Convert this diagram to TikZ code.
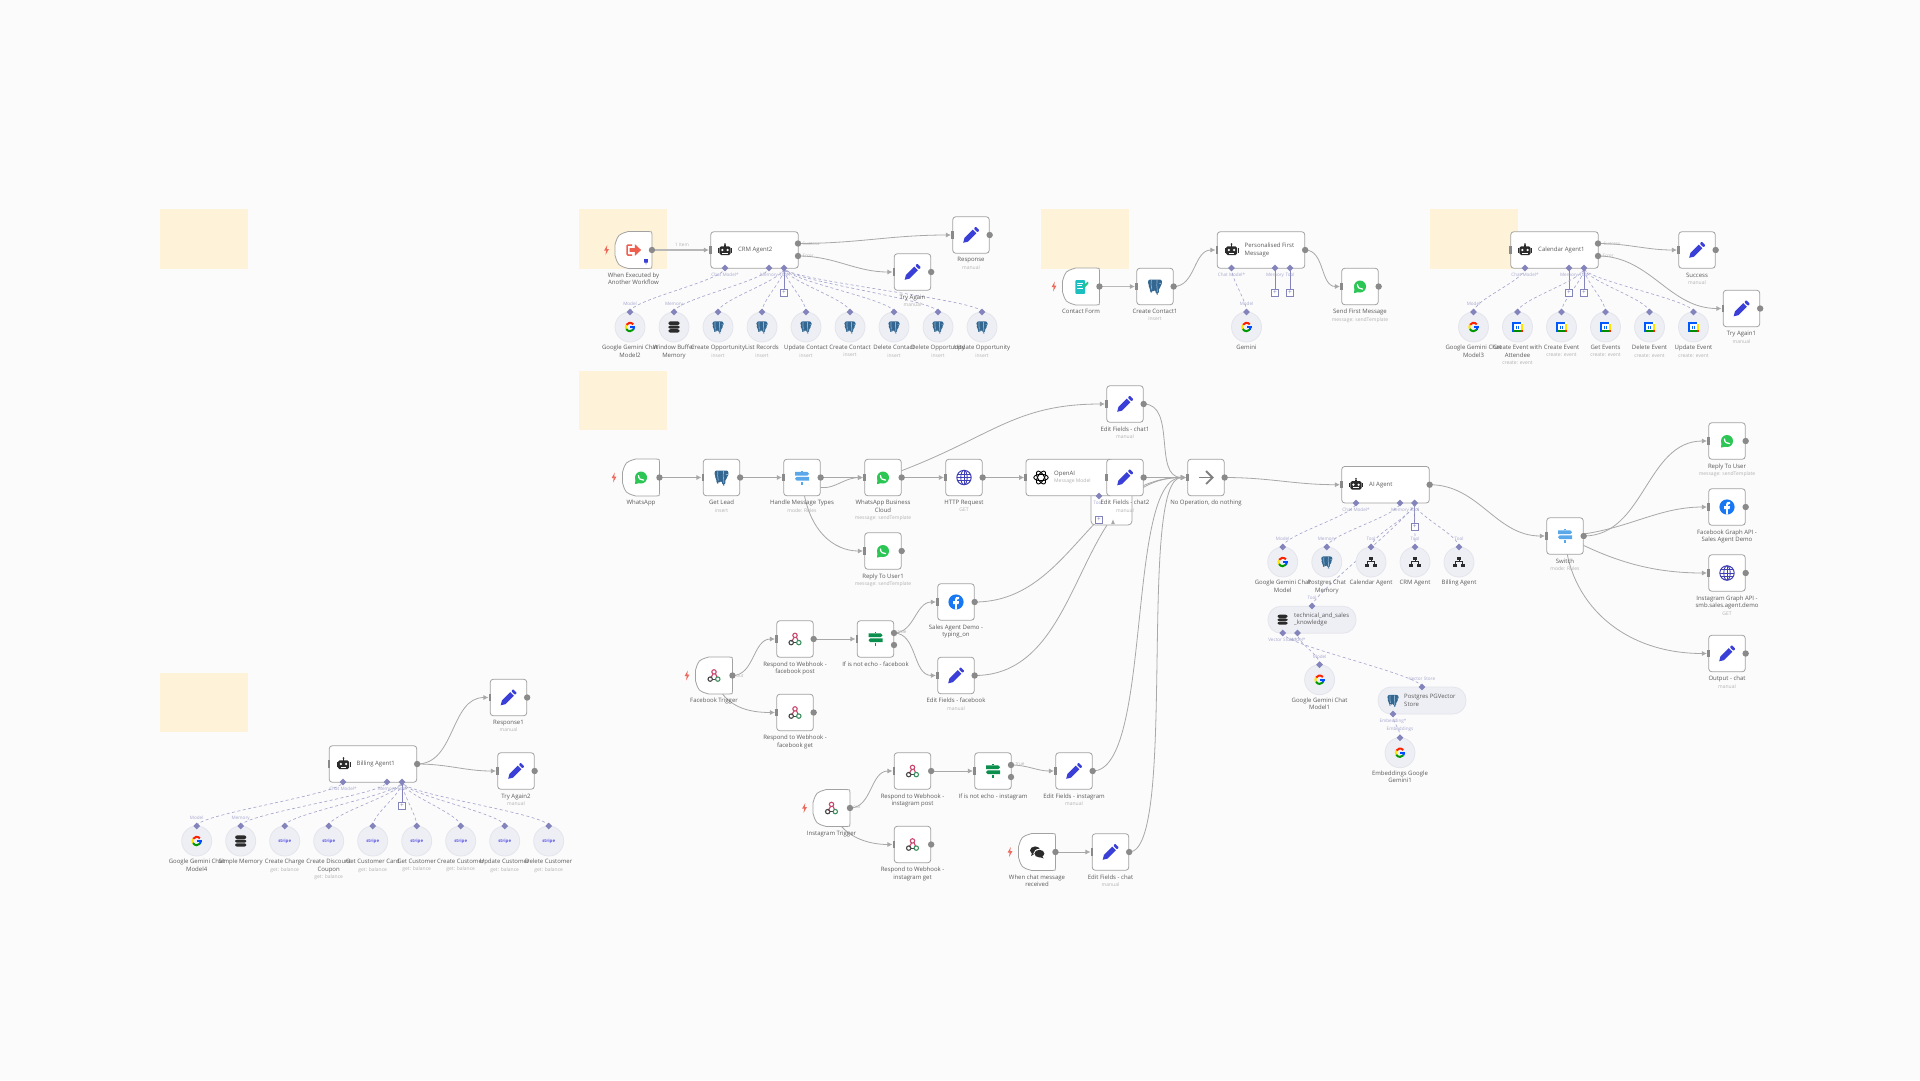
\documentclass[tikz,border=0pt]{standalone}
\usepackage{fontspec}
\setmainfont{Open Sans}
\usetikzlibrary{arrows.meta,shapes.geometric}
\pgfdeclarelayer{bg}\pgfdeclarelayer{edges}
\pgfsetlayers{bg,edges,main}
\definecolor{pagec}{HTML}{FBFBFB}
\definecolor{stick}{HTML}{FEF3D8}
\definecolor{bdc}{HTML}{A2A2A2}
\definecolor{portc}{HTML}{8A8A8A}
\definecolor{linec}{HTML}{A8A8A8}
\definecolor{linef}{HTML}{B8B8B8}
\definecolor{lav}{HTML}{8484BC}
\definecolor{lavt}{HTML}{A6A7CE}
\definecolor{circf}{HTML}{EEEFF5}
\definecolor{circd}{HTML}{E4E5EC}
\definecolor{txtc}{HTML}{5A5A5A}
\definecolor{subc}{HTML}{B2B2B2}
\definecolor{penc}{HTML}{3A3FD8}
\definecolor{wac}{HTML}{2BC653}
\definecolor{pgc}{HTML}{336791}
\definecolor{pgl}{HTML}{8FB2CF}
\definecolor{fbc}{HTML}{1877F2}
\definecolor{ifc}{HTML}{0B8F4C}
\definecolor{swc}{HTML}{5AA8EA}
\definecolor{globec}{HTML}{3F3FB8}
\definecolor{boltc}{HTML}{EE6A5C}
\definecolor{robc}{HTML}{2B2B2B}
\definecolor{stripec}{HTML}{5B55E6}
\definecolor{execc}{HTML}{EE5F50}
\definecolor{formc}{HTML}{1CBFC0}
\definecolor{hookp}{HTML}{C9486E}
\definecolor{hookg}{HTML}{3C8F5E}
\tikzset{
 actbox/.style={draw=bdc,fill=white,line width=.8pt,rounded corners=3pt,minimum width=36.5pt,minimum height=36.5pt,inner sep=0pt},
 trigbox/.style={minimum width=36.5pt,minimum height=36.5pt,inner sep=0pt},
 actpath/.style={draw=bdc,fill=white,line width=.8pt},
 agentbox/.style={draw=bdc,fill=white,line width=.8pt,rounded corners=3pt,minimum width=87.5pt,minimum height=36.5pt,inner sep=0pt},
 subcirc/.style={circle,draw=circd,fill=circf,line width=.8pt,minimum size=30pt,inner sep=0pt},
 pill/.style={draw=circd,fill=circf,line width=.8pt,rounded corners=13pt,minimum width=88pt,minimum height=27pt,inner sep=0pt},
 lbl/.style={font=\fontsize{6}{7.4}\selectfont,text=txtc,align=center,inner sep=0pt,anchor=north},
 intxt/.style={font=\fontsize{6}{7.4}\selectfont,text=txtc,align=left,inner sep=0pt,anchor=west},
 plbl/.style={font=\fontsize{4.6}{5.5}\selectfont,text=lavt,inner sep=0pt},
 elbl/.style={font=\fontsize{4.6}{5.5}\selectfont,text=subc,inner sep=0pt},
 outdot/.style={circle,fill=portc,minimum size=6.4pt,inner sep=0pt},
 inport/.style={rectangle,fill=portc,minimum width=2.4pt,minimum height=7.5pt,inner sep=0pt},
 dia/.style={diamond,fill=lav,minimum size=7pt,inner sep=0pt},
 plusbox/.style={draw=lav,fill=white,line width=.55pt,minimum size=6.6pt,inner sep=0pt,font=\fontsize{6.5}{6.5}\selectfont,text=lav},
 conn/.style={draw=linec,line width=.8pt,-{Latex[length=5pt,width=5pt]}},
 connfat/.style={draw=linef,line width=1.5pt,-{Latex[length=5pt,width=5pt,color=linec]}},
 sublink/.style={draw=lavt,line width=.65pt,dash pattern=on 3pt off 2.5pt},
 stub/.style={draw=lav,line width=.65pt},
 stickyb/.style={fill=stick,draw=none,minimum width=88pt,minimum height=59.5pt,inner sep=0pt},
}
\newcommand\subtxt[1]{{\fontsize{5}{7.4}\selectfont\color{subc}#1}}
% ---- icons (y up, unit pt)
\newcommand\ic[3][1]{\begin{scope}[shift={(#2)},x=1pt,y=1pt,scale=#1]#3\end{scope}}
\newcommand\icPen{\fill[penc] (-7.8,-7.8)--(-6.6,-2.9)--(1.7,5.4)--(5.4,1.7)--(-2.9,-6.6)--cycle;
 \fill[penc,rounded corners=.8pt] (2.7,6.4)--(4.6,8.4)--(8.4,4.6)--(6.4,2.7)--cycle;}
\newcommand\icWa{\fill[wac] (0,0) circle (6);\fill[wac] (-6,-6.6)--(-5.4,-1)--(-1,-5.4)--cycle;
 \draw[white,line width=1.3pt,line cap=round] (-2.6,2) .. controls (-2.4,-1.2) and (-.2,-2.8) .. (2.6,-2.6);}
\newcommand\icPg{\fill[pgc,rounded corners=2pt] (-6.8,7)--(6.8,7)--(7,1)--(4,-1)--(3.6,-8)--(.8,-8)--(.4,-3)--(-1.6,-3)--(-2.4,-6)--(-5,-6)--(-5.2,-.6)--(-7,1.5)--cycle;
 \draw[pgl,line width=.7pt] (-3.6,6.4) .. controls (-4.6,3) and (-3.6,1) .. (-3.2,-3) (2,6.4) .. controls (1,3) and (2.4,0) .. (2.2,-5.4) (4.4,3)--(6.4,3);}
\newcommand\icG{\draw[line width=2pt,color=red!75!orange] (40:4.2) arc[start angle=40,end angle=150,radius=4.2];
 \draw[line width=2pt,color=yellow!85!orange] (150:4.2) arc[start angle=150,end angle=210,radius=4.2];
 \draw[line width=2pt,color=green!60!black] (210:4.2) arc[start angle=210,end angle=320,radius=4.2];
 \draw[line width=2pt,color=blue!70!cyan] (320:4.2) arc[start angle=320,end angle=360,radius=4.2];
 \fill[blue!70!cyan] (0,-.9) rectangle (5.2,.9);}
\newcommand\icRob{\fill[robc,rounded corners=1.6pt] (-5.6,-5)--(5.6,-5)--(5.6,3.6)--(-5.6,3.6)--cycle;
 \fill[robc] (-7,-2.6) rectangle (-6,1.6);\fill[robc] (7,-2.6) rectangle (6,1.6);\fill[robc] (-.7,3.5) rectangle (.7,5.2);\fill[robc] (0,5.8) circle (1);
 \fill[white] (-2.6,0) circle (1.3);\fill[white] (2.6,0) circle (1.3);\fill[white] (-2.8,-3.4) rectangle (2.8,-2.6);}
\newcommand\icHook{\draw[hookp,line width=1.1pt] (0,3.6) circle (2.2);
 \draw[hookp,line width=1.1pt] (-.9,1.6)--(-3.4,-2.6) (1.4,2)--(3,-1.6);
 \draw[color=black!72,line width=1.1pt] (-3.8,-3.6) circle (2.2);
 \draw[color=black!72,line width=1.1pt] (-1.6,-3.6)--(1.6,-3.6);
 \draw[hookg,line width=1.1pt] (3.8,-3.6) circle (2.2);}
\newcommand\icSign[1]{\fill[#1] (-7,2)--(5.4,2)--(7,3.8)--(5.4,5.6)--(-7,5.6)--cycle;
 \fill[#1] (7,-3)--(-5.4,-3)--(-7,-1.2)--(-5.4,.6)--(7,.6)--cycle;
 \fill[#1] (-.8,-7.4) rectangle (.8,-4.4);\fill[#1] (-.8,5.6) rectangle (.8,7);}
\newcommand\icGlobe{\draw[globec,line width=1pt] (0,0) circle (7.2);\draw[globec,line width=.9pt] (0,0) ellipse (3.2 and 7.2);
 \draw[globec,line width=.9pt] (0,-7.2)--(0,7.2) (-7.2,0)--(7.2,0) (-6.3,3.4)--(6.3,3.4) (-6.3,-3.4)--(6.3,-3.4);}
\newcommand\icFb{\fill[fbc] (0,0) circle (7.6);\fill[white] (-.9,-7.6)--(-.9,-2)--(-3,-2)--(-3,.9)--(-.9,.9)--(-.9,2.8) .. controls (-.9,4.8) and (.4,5.6) .. (3,5.1)--(3,2.8)--(1.7,2.8) .. controls (1,2.8) and (.9,2.4) .. (.9,1.8)--(.9,.9)--(3,.9)--(2.6,-2)--(.9,-2)--(.9,-7.6)--cycle;}
\newcommand\icForm{\fill[formc,rounded corners=.8pt] (-5.6,-7.4) rectangle (4,6.4);\fill[wac!50!formc] (2,1) -- (7,5)--(7.4,3)--(3.4,-1.4)--cycle;
 \draw[white,line width=.9pt] (-3.6,3.4)--(1.6,3.4) (-3.6,.6)--(.6,.6) (-3.6,-2.2)--(1.6,-2.2);}
\newcommand\icCal{\fill[white] (-5.4,-5.4) rectangle (5.4,5.4);
 \fill[blue!65!cyan] (-5.4,3.2) rectangle (3.2,5.4);\fill[blue!65!cyan] (-5.4,-3.2) rectangle (-3.2,5.4);
 \fill[green!55!black] (-3.2,-5.4) rectangle (3.2,-3.2);\fill[yellow!85!orange] (3.2,-3.2) rectangle (5.4,3.2);
 \fill[red!75!orange] (3.2,-5.4) rectangle (5.4,-3.2);\fill[blue!65!cyan] (-5.4,-5.4) rectangle (-3.2,-3.2);
 \draw[blue!60!cyan,line width=.8pt] (-1.4,1.4)--(-1.4,-1.6) (1.2,1.4)--(1.2,-1.6);}
\newcommand\icDb[1]{\fill[robc,rounded corners=2pt] (-#1,#1*.35) rectangle (#1,#1);
 \fill[robc,rounded corners=2pt] (-#1,-#1*.3) rectangle (#1,#1*.25);
 \fill[robc,rounded corners=2pt] (-#1,-#1) rectangle (#1,-#1*.4);}
\newcommand\icChat{\fill[robc] (-1.8,1.6) ellipse (5.2 and 4);\fill[robc] (-5,-1)--(-6,-4)--(-2.4,-2)--cycle;
 \fill[white] (2.4,-1.6) ellipse (6 and 4.8);\fill[robc] (2.4,-1.6) ellipse (5 and 3.8);\fill[robc] (5,-4)--(6.6,-6.4)--(2.4,-5)--cycle;}
\newcommand\icArrow{\draw[color=black!50,line width=1.8pt] (-7,0)--(6,0);\draw[color=black!50,line width=1.8pt] (0,6.5)--(6.5,0)--(0,-6.5);}
\newcommand\icAi{\foreach \a in {0,60,120}{\draw[black,line width=.9pt,rotate=\a] (0,0) ellipse (7.2 and 3.2);}}
\newcommand\icExec{\draw[execc,line width=1.5pt,rounded corners=1pt] (-1.5,5)--(-6.5,5)--(-6.5,-5)--(-1.5,-5);
 \fill[execc] (-4,-1.8)--(1.4,-1.8)--(1.4,-5.8)--(7.6,0)--(1.4,5.8)--(1.4,1.8)--(-4,1.8)--cycle;}
\newcommand\icStripe{\node[inner sep=0pt,font=\bfseries\fontsize{4.4}{5}\selectfont,text=stripec] at (0,0) {stripe};}
\newcommand\icTree{\begin{scope}[scale=.85]\fill[robc] (-2,2.6) rectangle (2,6.4);\fill[robc] (-7,-6) rectangle (-2.2,-2);\fill[robc] (2.2,-6) rectangle (7,-2);\draw[robc,line width=.9pt] (-4.6,-2)--(-4.6,.4)--(4.6,.4)--(4.6,-2) (0,.4)--(0,2.6);\end{scope}}
\newcommand\icPgS{\begin{scope}[scale=.8]\icPg\end{scope}}
\newcommand\bolt[1]{\fill[boltc,shift={(#1)},x=1pt,y=1pt] (.8,5)--(-2.4,-.6)--(-.3,-.6)--(-1,-5)--(2.4,.8)--(.2,.8)--cycle;}
% ---- node macros
\newcommand\actn[5]{\node[actbox] (#1) at (#2,#3) {};\node[lbl] (#1-l) at (#2,#3+22.5) {#4};
 \node[inport] (#1-i) at (#1.west) {};\ic{#1.center}{#5}}
\newcommand\act[5]{\actn{#1}{#2}{#3}{#4}{#5}\node[outdot] (#1-o) at (#1.east) {};}
\newcommand\trig[5]{\node[trigbox] (#1) at (#2,#3) {};
 \filldraw[actpath] ([yshift=-3pt]#1.north east)--([yshift=3pt]#1.south east) .. controls (#1.south east) .. ([xshift=-3pt]#1.south east)
 --([xshift=13pt]#1.south west) .. controls ([xshift=3pt,yshift=3pt]#1.south west) .. ([yshift=13pt]#1.south west)
 --([yshift=-13pt]#1.north west) .. controls ([xshift=3pt,yshift=-3pt]#1.north west) .. ([xshift=13pt]#1.north west)
 --([xshift=-3pt]#1.north east) .. controls (#1.north east) .. cycle;
 \node[lbl] (#1-l) at (#2,#3+22.5) {#4};\node[outdot] (#1-o) at (#1.east) {};\ic{#1.center}{#5}\bolt{#2-27,#3}}
\newcommand\tool[6]{\node[subcirc] (#1) at (#2,#3) {};\node[dia] (#1-d) at (#2,#3-15) {};
 \node[plbl] (#1-t) at (#2,#3-23) {#4};\node[lbl] (#1-l) at (#2,#3+18) {#5};\ic{#1.center}{#6}}
\newcommand\agent[5]{\node[agentbox] (#1) at (#2,#3) {};\node[intxt] (#1-l) at (#2-16.5,#3) {#4};
 \node[inport] (#1-i) at (#1.west) {};\ic{#2-29.5,#3}{#5}}
\newcommand\port[4]{\node[dia] (#1) at (#2,#3) {};\node[plbl] (#1-t) at (#2,#3+7) {#4};}
\newcommand\plusb[3]{\node[plusbox] (#1) at (#2,#3) {+};}
\newcommand\lnk[2]{\draw[conn] (#1.center) to[out=0,in=180] (#2-i.west);}
\newcommand\lnkl[3]{\draw[conn] (#1.center) to[out=0,in=180,looseness=#3] (#2-i.west);}
\newcommand\dlnk[2]{\draw[sublink] (#1-d.center) .. controls +(0,-12) and +(0,12) .. (#2.center);}
\begin{document}
\begin{tikzpicture}[x=1pt,y=-1pt]
\useasboundingbox (0,0) rectangle (1920,1080);
\begin{pgfonlayer}{bg}
\fill[pagec] (0,0) rectangle (1920,1080);
\node[stickyb] (st1) at (204,239) {};
\node[stickyb] (st2) at (622.5,239) {};
\node[stickyb] (st3) at (1085,239) {};
\node[stickyb] (st4) at (1473.5,239) {};
\node[stickyb] (st5) at (622.5,400.5) {};
\node[stickyb] (st6) at (204,702.5) {};
\end{pgfonlayer}

% ===== CRM group
\trig{exe}{633.5}{250}{When Executed by\\Another Workflow}{\icExec}
\ic{646,262}{\fill[penc] (-1.8,3)--(1.8,3)--(1.8,-.6)--(.4,-.6)--(0,-3)--(-.4,-.6)--(-1.8,-.6)--cycle;}
\agent{crm}{754.5}{250}{CRM Agent2}{\icRob}
\node[outdot] (crm-o1) at (798,243.5) {};\node[outdot] (crm-o2) at (798,256) {};
\port{crm-m}{725}{268}{Chat Model*}\port{crm-e}{769}{268}{Memory}\port{crm-t}{784}{268}{Tool}
\plusb{crm-p}{784}{293}
\act{resp}{971}{235}{Response\\\subtxt{manual}}{\icPen}
\act{try}{912.5}{272}{Try Again\\\subtxt{manual}}{\icPen}
\tool{c1}{630}{327}{Model}{Google Gemini Chat\\Model2}{\icG}
\tool{c2}{674}{327}{Memory}{Window Buffer\\Memory}{\icDb{5.6}}
\tool{c3}{718}{327}{}{Create Opportunity\\\subtxt{insert}}{\icPgS}
\tool{c4}{762}{327}{}{List Records\\\subtxt{insert}}{\icPgS}
\tool{c5}{806}{327}{}{Update Contact\\\subtxt{insert}}{\icPgS}
\tool{c6}{850}{327}{}{Create Contact\\\subtxt{insert}}{\icPgS}
\tool{c7}{894}{327}{}{Delete Contact\\\subtxt{insert}}{\icPgS}
\tool{c8}{938}{327}{}{Delete Opportunity\\\subtxt{insert}}{\icPgS}
\tool{c9}{982}{327}{}{Update Opportunity\\\subtxt{insert}}{\icPgS}
\node[elbl] (crm-x0) at (682,245) {1 Item};
\node[elbl] (crm-x1) at (811,243.5) {Success};
\node[elbl] (crm-x2) at (808,256) {Error};

% ===== Contact group
\trig{cf}{1081}{286.5}{Contact Form}{\icForm}
\act{cc}{1155}{286.5}{Create Contact1\\\subtxt{insert}}{\icPg}
\agent{pf}{1261}{250}{Personalised First\\Message}{\icRob}
\node[outdot] (pf-o) at (pf.east) {};
\port{pf-m}{1231.5}{268}{Chat Model*}\port{pf-e}{1275}{268}{Memory}\port{pf-t}{1290}{268}{Tool}
\plusb{pf-p1}{1275}{293}\plusb{pf-p2}{1290}{293}
\tool{gem}{1246.5}{327}{Model}{Gemini}{\icG}
\act{sf}{1360}{286.5}{Send First Message\\\subtxt{message: sendTemplate}}{\icWa}

% ===== Calendar group
\agent{cal}{1554.5}{250}{Calendar Agent1}{\icRob}
\node[outdot] (cal-o1) at (1598,243.5) {};\node[outdot] (cal-o2) at (1598,256) {};
\port{cal-m}{1525}{268}{Chat Model*}\port{cal-e}{1569}{268}{Memory}\port{cal-t}{1584}{268}{Tool}
\plusb{cal-p1}{1569}{293}\plusb{cal-p2}{1584}{293}
\node[elbl] (cal-x1) at (1612,243.5) {Success};
\node[elbl] (cal-x2) at (1608,256) {Error};
\act{suc}{1697}{250}{Success\\\subtxt{manual}}{\icPen}
\act{try1}{1741.5}{308.5}{Try Again1\\\subtxt{manual}}{\icPen}
\tool{k1}{1473.5}{327}{Model}{Google Gemini Chat\\Model3}{\icG}
\tool{k2}{1517.5}{327}{}{Create Event with\\Attendee\\\subtxt{create: event}}{\icCal}
\tool{k3}{1561.5}{327}{}{Create Event\\\subtxt{create: event}}{\icCal}
\tool{k4}{1605.5}{327}{}{Get Events\\\subtxt{create: event}}{\icCal}
\tool{k5}{1649.5}{327}{}{Delete Event\\\subtxt{create: event}}{\icCal}
\tool{k6}{1693.5}{327}{}{Update Event\\\subtxt{create: event}}{\icCal}

% ===== Main row
\trig{wa}{641}{477.5}{WhatsApp}{\icWa}
\act{gl}{721.5}{477.5}{Get Lead\\\subtxt{insert}}{\icPg}
\act{hm}{802}{477.5}{Handle Message Types\\\subtxt{mode: Rules}}{\icSign{swc}}
\act{wb}{883}{477.5}{WhatsApp Business\\Cloud\\\subtxt{message: sendTemplate}}{\icWa}
\act{ht}{964}{477.5}{HTTP Request\\\subtxt{GET}}{\icGlobe}
\node[draw=bdc,fill=white,line width=.8pt,rounded corners=4pt,minimum width=41pt,minimum height=50pt,inner sep=0pt] (behind) at (1111.5,500) {};
\node[fill=linec,isosceles triangle,rotate=90,minimum size=3pt,inner sep=1pt] (behind-a) at (1113,523) {};
\node[agentbox,minimum width=87pt] (oa) at (1069.5,477.5) {};
\node[intxt] (oa-l) at (1054,477.5) {OpenAI\\\subtxt{Message Model}};
\node[inport] (oa-i) at (oa.west) {};
\ic{1041,477.5}{\icAi}
\node[dia] (oa-d) at (1099,496) {};\node[plbl] (oa-t) at (1098,502.5) {Tool};
\plusb{oa-p}{1099}{520}
\act{e2}{1125}{477.5}{Edit Fields - chat2\\\subtxt{manual}}{\icPen}
\act{e1}{1125}{404}{Edit Fields - chat1\\\subtxt{manual}}{\icPen}
\act{no}{1206}{477.5}{No Operation, do nothing}{\icArrow}
\act{ru1}{883}{551}{Reply To User1\\\subtxt{message: sendTemplate}}{\icWa}

% ===== Facebook
\trig{fbt}{714}{675.5}{Facebook Trigger}{\icHook}
\act{fp}{795}{639}{Respond to Webhook -\\facebook post}{\icHook}
\act{fg}{795}{712.5}{Respond to Webhook -\\facebook get}{\icHook}
\actn{fi}{875.5}{639}{If is not echo - facebook}{\icSign{ifc}}
\node[outdot] (fi-o1) at (894,633) {};\node[outdot] (fi-o2) at (894,645) {};
\act{fs}{956}{602}{Sales Agent Demo -\\typing\_on}{\icFb}
\act{fe}{956}{675.5}{Edit Fields - facebook\\\subtxt{manual}}{\icPen}
\node[elbl] (fbt-x) at (740,675.5) {out};
\node[elbl] (fi-x) at (902,632) {true};

% ===== Instagram
\trig{igt}{831.5}{808}{Instagram Trigger}{\icHook}
\act{ip}{912.5}{771}{Respond to Webhook -\\instagram post}{\icHook}
\act{ig}{912.5}{844.5}{Respond to Webhook -\\instagram get}{\icHook}
\actn{ii}{993}{771}{If is not echo - instagram}{\icSign{ifc}}
\node[outdot] (ii-o1) at (1011,765) {};\node[outdot] (ii-o2) at (1011,777) {};
\act{ie}{1074}{771}{Edit Fields - instagram\\\subtxt{manual}}{\icPen}
\node[elbl] (igt-x) at (857,807) {out};
\node[elbl] (ii-x) at (1020,764) {true};

% ===== Chat
\trig{ch}{1037}{852}{When chat message\\received}{\icChat}
\act{ce}{1110.5}{852}{Edit Fields - chat\\\subtxt{manual}}{\icPen}

% ===== AI Agent
\agent{ai}{1385.5}{484.7}{AI Agent}{\icRob}
\node[outdot] (ai-o) at (ai.east) {};
\port{ai-m}{1356}{503}{Chat Model*}\port{ai-e}{1400}{503}{Memory}\port{ai-t}{1414.6}{503}{Tool}
\plusb{ai-p}{1414.6}{527}
\tool{a1}{1282.7}{562}{Model}{Google Gemini Chat\\Model}{\icG}
\tool{a2}{1326.8}{562}{Memory}{Postgres Chat\\Memory}{\icPgS}
\tool{a3}{1371}{562}{Tool}{Calendar Agent}{\icTree}
\tool{a4}{1415}{562}{Tool}{CRM Agent}{\icTree}
\tool{a5}{1459}{562}{Tool}{Billing Agent}{\icTree}
% vector tool
\node[pill] (vt) at (1312,619.7) {};
\node[intxt] (vt-l) at (1294,619.7) {technical\_and\_sales\\\_knowledge};
\ic{1282.5,619.7}{\icDb{5}}
\node[dia] (vt-d) at (1312,606) {};\node[plbl] (vt-t) at (1312,598) {Tool};
\port{vt-s}{1282.7}{633}{Vector Store*}\port{vt-m}{1297.5}{633}{Model*}
\tool{gm1}{1319.6}{679.7}{Model}{Google Gemini Chat\\Model1}{\icG}
\node[pill] (pv) at (1422,700.5) {};
\node[intxt] (pv-l) at (1404,700.5) {Postgres PGVector\\Store};
\ic{1393,700.5}{\icPgS}
\node[dia] (pv-d) at (1422,687) {};\node[plbl] (pv-t) at (1422,678.5) {Vector Store};
\port{pv-b}{1393}{714}{Embedding*}
\tool{em}{1400}{752.7}{Embeddings}{Embeddings Google\\Gemini1}{\icG}

% ===== Switch & outputs
\act{sw}{1565}{536}{Switch\\\subtxt{mode: Rules}}{\icSign{swc}}
\act{ru}{1727}{441}{Reply To User\\\subtxt{message: sendTemplate}}{\icWa}
\act{fa}{1727}{507}{Facebook Graph API -\\Sales Agent Demo}{\icFb}
\act{in}{1727}{573}{Instagram Graph API -\\smb.sales.agent.demo\\\subtxt{GET}}{\icGlobe}
\act{oc}{1727}{653.5}{Output - chat\\\subtxt{manual}}{\icPen}

% ===== Billing
\agent{bi}{373}{764}{Billing Agent1}{\icRob}
\node[outdot] (bi-o) at (bi.east) {};
\port{bi-m}{343}{782}{Chat Model*}\port{bi-e}{387}{782}{Memory}\port{bi-t}{402}{782}{Tool}
\plusb{bi-p}{402}{806}
\act{re1}{508.5}{697.5}{Response1\\\subtxt{manual}}{\icPen}
\act{try2}{516}{771}{Try Again2\\\subtxt{manual}}{\icPen}
\tool{b1}{196.7}{841}{Model}{Google Gemini Chat\\Model4}{\icG}
\tool{b2}{240.7}{841}{Memory}{Simple Memory}{\icDb{5.6}}
\tool{b3}{284.7}{841}{}{Create Charge\\\subtxt{get: balance}}{\icStripe}
\tool{b4}{328.7}{841}{}{Create Discount\\Coupon\\\subtxt{get: balance}}{\icStripe}
\tool{b5}{372.7}{841}{}{Get Customer Card\\\subtxt{get: balance}}{\icStripe}
\tool{b6}{416.7}{841}{}{Get Customer\\\subtxt{get: balance}}{\icStripe}
\tool{b7}{460.7}{841}{}{Create Customer\\\subtxt{get: balance}}{\icStripe}
\tool{b8}{504.7}{841}{}{Update Customer\\\subtxt{get: balance}}{\icStripe}
\tool{b9}{548.7}{841}{}{Delete Customer\\\subtxt{get: balance}}{\icStripe}

% ===== connectors
\begin{pgfonlayer}{edges}
\draw[connfat] (exe-o.center)--(crm-i.west);
\lnk{crm-o1}{resp}\lnk{crm-o2}{try}
\draw[connfat] (cf-o.center)--(cc-i.west);
\lnk{cc-o}{pf}\lnk{pf-o}{sf}
\lnk{cal-o1}{suc}\lnk{cal-o2}{try1}
\lnk{wa-o}{gl}\lnk{gl-o}{hm}\lnk{hm-o}{wb}\lnk{wb-o}{ht}\lnk{ht-o}{oa}
\draw[conn] (hm.center) .. controls (828,500) and (838,478) .. (wb-i.west);
\draw[conn] (hm.center) .. controls (806,532) and (835,551) .. (ru1-i.west);
\draw[conn] (wb.center) .. controls (990,440) and (1010,404) .. (e1-i.west);
\lnk{e1-o}{no}\lnk{e2-o}{no}\lnk{fs-o}{no}\lnk{fe-o}{no}
\lnkl{ie-o}{no}{.5}\lnkl{ce-o}{no}{.33}
\lnk{no-o}{ai}\lnk{ai-o}{sw}
\lnk{sw-o}{ru}
\draw[conn] (sw.center) .. controls (1625,532) and (1655,507) .. (fa-i.west);
\draw[conn] (sw.center) .. controls (1610,560) and (1650,573) .. (in-i.west);
\draw[conn] (sw.center) .. controls (1568,600) and (1620,653.5) .. (oc-i.west);
\lnk{fbt-o}{fp}\draw[conn] (fbt.center) .. controls (722,708) and (750,712.5) .. (fg-i.west);
\lnk{fp-o}{fi}\lnk{fi-o1}{fs}\lnk{fi-o1}{fe}
\lnk{igt-o}{ip}\draw[conn] (igt.center) .. controls (840,838) and (870,844.5) .. (ig-i.west);
\lnk{ip-o}{ii}\lnk{ii-o1}{ie}
\lnk{ch-o}{ce}
\lnk{bi-o}{re1}\lnk{bi-o}{try2}
% stubs
\draw[stub] (crm-t.center)--(crm-p.center);
\draw[stub] (pf-e.center)--(pf-p1.center);\draw[stub] (pf-t.center)--(pf-p2.center);
\draw[stub] (cal-e.center)--(cal-p1.center);\draw[stub] (cal-t.center)--(cal-p2.center);
\draw[stub] (ai-t.center)--(ai-p.center);
\draw[stub] (bi-t.center)--(bi-p.center);
\draw[stub] (oa-d.center)--(oa-p.center);
% dashed
\dlnk{c1}{crm-m}\dlnk{c2}{crm-e}
\foreach \n in {c3,c4,c5,c6,c7,c8,c9}{\dlnk{\n}{crm-t}}
\dlnk{gem}{pf-m}
\dlnk{k1}{cal-m}
\foreach \n in {k2,k3,k4,k5,k6}{\dlnk{\n}{cal-t}}
\dlnk{b1}{bi-m}\dlnk{b2}{bi-e}
\foreach \n in {b3,b4,b5,b6,b7,b8,b9}{\dlnk{\n}{bi-t}}
\dlnk{a1}{ai-m}\dlnk{a2}{ai-e}
\foreach \n in {a3,a4,a5,vt}{\dlnk{\n}{ai-t}}
\dlnk{pv}{vt-s}\dlnk{gm1}{vt-m}\dlnk{em}{pv-b}
\end{pgfonlayer}
\end{tikzpicture}
\end{document}
